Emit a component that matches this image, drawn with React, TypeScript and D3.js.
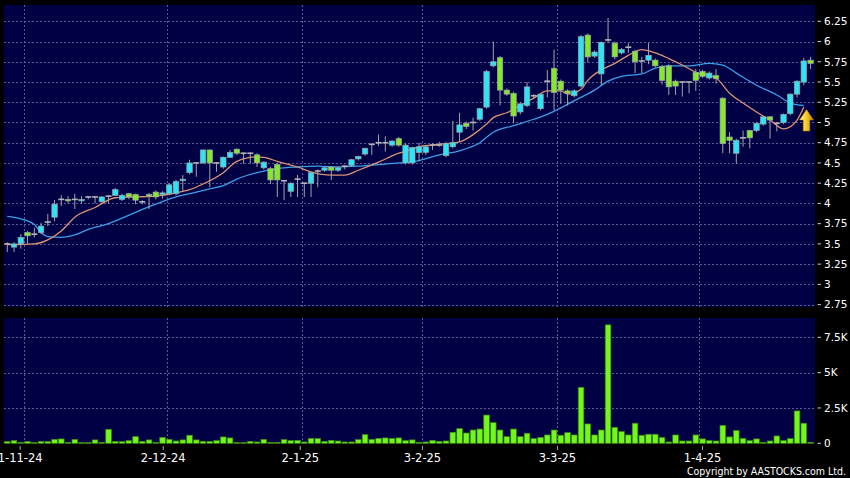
import React from "react";
import * as d3 from "d3";

// daily candles, oldest first (120 trading days)
const opens = [
  3.5, 3.46, 3.5, 3.64, 3.62, 3.64, 3.77, 3.83, 4.05, 4.05,
  4.05, 4.04, 4.08, 4.08, 4.02, 4.09, 4.1, 4.05, 4.12, 4.11,
  4.02, 4.11, 4.14, 4.11, 4.12, 4.12, 4.28, 4.38, 4.5, 4.5,
  4.66, 4.5, 4.45, 4.57, 4.67, 4.62, 4.62, 4.6, 4.44, 4.43,
  4.48, 4.28, 4.15, 4.3, 4.25, 4.25, 4.4, 4.41, 4.45, 4.41,
  4.46, 4.47, 4.55, 4.61, 4.73, 4.75, 4.75, 4.72, 4.8, 4.5,
  4.5, 4.63, 4.63, 4.72, 4.72, 4.59, 4.7, 4.88, 4.99, 5.0,
  5.04, 5.19, 5.7, 5.8, 5.4, 5.36, 5.13, 5.21, 5.33, 5.17,
  5.51, 5.67, 5.51, 5.39, 5.33, 5.45, 6.08, 5.82, 5.6, 6.02,
  5.98, 5.86, 5.93, 5.88, 5.76, 5.77, 5.77, 5.69, 5.7, 5.51,
  5.5, 5.5, 5.62, 5.63, 5.55, 5.58, 5.3, 4.82, 4.62, 4.81,
  4.9, 4.9, 4.98, 5.07, 4.99, 5.0, 5.11, 5.35, 5.5, 5.77,
];
const highs = [
  3.52, 3.52, 3.62, 3.66, 3.7, 3.76, 3.87, 4.04, 4.1, 4.09,
  4.12, 4.09, 4.09, 4.09, 4.09, 4.1, 4.19, 4.12, 4.13, 4.12,
  4.04, 4.13, 4.16, 4.15, 4.25, 4.29, 4.35, 4.54, 4.51, 4.67,
  4.67, 4.51, 4.58, 4.66, 4.68, 4.63, 4.63, 4.62, 4.52, 4.45,
  4.5, 4.29, 4.26, 4.35, 4.26, 4.39, 4.42, 4.45, 4.46, 4.45,
  4.47, 4.55, 4.59, 4.69, 4.74, 4.85, 4.83, 4.78, 4.82, 4.74,
  4.7, 4.75, 4.71, 4.74, 4.76, 4.76, 5.02, 5.12, 5.01, 5.06,
  5.18, 5.65, 6.0, 5.82, 5.42, 5.38, 5.25, 5.5, 5.35, 5.36,
  5.65, 5.9, 5.53, 5.41, 5.41, 6.08, 6.1, 5.89, 6.0, 6.29,
  6.0, 5.92, 5.98, 5.9, 5.81, 5.98, 5.79, 5.71, 5.72, 5.53,
  5.51, 5.51, 5.66, 5.65, 5.63, 5.66, 5.31, 4.88, 4.8, 4.9,
  4.91, 5.0, 5.08, 5.08, 5.0, 5.11, 5.36, 5.52, 5.8, 5.81,
];
const lows = [
  3.4, 3.4, 3.44, 3.5, 3.58, 3.62, 3.72, 3.78, 3.97, 4.0,
  3.93, 4.0, 4.05, 4.0, 4.01, 4.0, 4.09, 4.03, 4.05, 3.99,
  3.99, 3.93, 4.05, 4.06, 4.1, 4.1, 4.14, 4.36, 4.33, 4.49,
  4.2, 4.39, 4.43, 4.56, 4.6, 4.49, 4.49, 4.45, 4.42, 4.24,
  4.08, 4.04, 4.08, 4.08, 4.08, 4.08, 4.2, 4.39, 4.29, 4.39,
  4.42, 4.45, 4.53, 4.59, 4.6, 4.71, 4.64, 4.7, 4.7, 4.48,
  4.48, 4.52, 4.6, 4.66, 4.7, 4.57, 4.68, 4.76, 4.92, 4.9,
  5.02, 5.17, 5.68, 5.21, 5.33, 4.99, 5.1, 5.19, 5.3, 5.15,
  5.31, 5.15, 5.23, 5.21, 5.31, 5.43, 5.74, 5.8, 5.46, 5.98,
  5.78, 5.84, 5.86, 5.61, 5.61, 5.72, 5.68, 5.47, 5.34, 5.34,
  5.32, 5.36, 5.39, 5.55, 5.53, 5.48, 4.62, 4.62, 4.49, 4.7,
  4.68, 4.88, 4.96, 4.8, 4.89, 4.98, 5.09, 5.31, 5.46, 5.66,
];
const closes = [
  3.5, 3.5, 3.58, 3.6, 3.62, 3.72, 3.77, 3.99, 4.05, 4.04,
  4.05, 4.05, 4.08, 4.08, 4.08, 4.09, 4.17, 4.1, 4.08, 4.04,
  4.02, 4.09, 4.08, 4.13, 4.23, 4.27, 4.3, 4.5, 4.5, 4.66,
  4.5, 4.5, 4.57, 4.63, 4.62, 4.62, 4.62, 4.5, 4.51, 4.29,
  4.29, 4.28, 4.25, 4.3, 4.25, 4.38, 4.4, 4.44, 4.41, 4.44,
  4.46, 4.54, 4.58, 4.68, 4.73, 4.75, 4.75, 4.77, 4.72, 4.72,
  4.69, 4.7, 4.7, 4.72, 4.72, 4.74, 4.75, 4.97, 4.95, 5.0,
  5.17, 5.63, 5.75, 5.4, 5.35, 5.08, 5.23, 5.44, 5.33, 5.35,
  5.51, 5.37, 5.4, 5.36, 5.39, 6.06, 5.81, 5.87, 5.99, 6.02,
  5.81, 5.9, 5.93, 5.75, 5.76, 5.83, 5.7, 5.52, 5.44, 5.45,
  5.5, 5.5, 5.52, 5.57, 5.61, 5.54, 4.74, 4.78, 4.78, 4.81,
  4.81, 4.99, 5.07, 5.03, 4.99, 5.1, 5.35, 5.51, 5.76, 5.73,
];
const volumes = [
  120, 190, 70, 120, 50, 140, 120, 280, 310, 70,
  280, 50, 50, 240, 70, 990, 140, 120, 190, 470,
  140, 240, 70, 420, 280, 165, 240, 570, 240, 140,
  140, 190, 450, 380, 50, 50, 140, 95, 280, 70,
  70, 260, 190, 210, 95, 350, 330, 140, 210, 165,
  95, 95, 260, 610, 280, 350, 380, 350, 380, 190,
  240, 70, 95, 210, 140, 165, 780, 1040, 730, 940,
  1010, 2000, 1460, 940, 470, 1010, 470, 710, 330, 420,
  590, 940, 570, 755, 590, 3960, 1370, 590, 940, 8380,
  1130, 830, 590, 1420, 570, 640, 640, 420, 95, 590,
  165, 165, 590, 310, 190, 165, 1270, 450, 900, 350,
  190, 310, 70, 165, 520, 190, 330, 2290, 1420, 70,
];

// moving averages: [bar index, value]
const maShort: [number, number][] = [
  [0, 3.49], [4, 3.5], [6, 3.55], [8, 3.66], [10, 3.83], [13, 3.95], [16, 4.07],
  [19, 4.08], [22, 4.09], [25, 4.13], [27, 4.17], [29, 4.24], [32, 4.38], [34, 4.52],
  [37, 4.575], [38, 4.57], [40, 4.52], [43, 4.45], [45, 4.39], [48, 4.35], [50, 4.35],
  [52, 4.41], [55, 4.51], [58, 4.62], [60, 4.67], [61, 4.7], [64, 4.73], [67, 4.76],
  [69, 4.85], [71, 4.98], [72, 5.06], [74, 5.12], [76, 5.21], [78, 5.3], [80, 5.39],
  [82, 5.39], [83, 5.35], [85, 5.41], [86, 5.52], [88, 5.65], [90, 5.73], [92, 5.83],
  [94, 5.9], [96, 5.86], [98, 5.79], [100, 5.71], [102, 5.62], [105, 5.55], [107, 5.36],
  [109, 5.24], [111, 5.13], [113, 5.03], [115, 4.92], [117, 5.03], [118, 5.19],
];
const maLong: [number, number][] = [
  [0, 3.84], [2, 3.81], [4, 3.74], [5, 3.64], [6, 3.59], [8, 3.58], [10, 3.61],
  [12, 3.68], [15, 3.75], [19, 3.89], [22, 3.99], [25, 4.08], [28, 4.14], [30, 4.18],
  [32, 4.22], [34, 4.3], [37, 4.38], [40, 4.43], [43, 4.45], [46, 4.46], [49, 4.45],
  [52, 4.46], [55, 4.48], [58, 4.5], [61, 4.53], [64, 4.6], [67, 4.65], [70, 4.75],
  [72, 4.88], [75, 4.96], [78, 5.04], [80, 5.1], [82, 5.18], [84, 5.27], [87, 5.4],
  [89, 5.51], [91, 5.57], [94, 5.6], [96, 5.67], [98, 5.7], [101, 5.7], [104, 5.73],
  [106, 5.71], [108, 5.61], [111, 5.46], [114, 5.34], [116, 5.24], [118, 5.21],
];

const priceTicks = [2.75, 3, 3.25, 3.5, 3.75, 4, 4.25, 4.5, 4.75, 5, 5.25, 5.5, 5.75, 6, 6.25];
const volumeTicks = [0, 2500, 5000, 7500];
const volumeTickLabels = ["0", "2.5K", "5K", "7.5K"];
const dateLabels = ["1-11-24", "2-12-24", "2-1-25", "3-2-25", "3-3-25", "1-4-25"];
const dateLabelIdx = [1.9, 23.1, 43.4, 61.5, 81.5, 103];
const monthGridIdx = [2.5, 23.6, 43.6, 61.5, 81.5, 102.5];
const signal = { index: 118.4, price: 5.16 };

const W = 850;
const H = 478;
const L = 4;
const R = 815;
const priceTop = 5;
const priceBottom = 307;
const volTop = 318;
const volBottom = 443.3;

const CYAN = "#2ee4f4";
const GREEN = "#86e82c";
const GRID = "#5c5c94";
const PANEL = "#000044";

export default function App() {
  const x = d3.scaleLinear().domain([0, 119]).range([7.3, 810.55]);
  const yP = d3.scaleLinear().domain([2.75, 6.25]).range([304.6, 21.3]);
  const yV = d3.scaleLinear().domain([0, 7500]).range([volBottom, 337.3]);

  const line = d3
    .line<[number, number]>()
    .x((d) => x(d[0]))
    .y((d) => yP(d[1]))
    .curve(d3.curveMonotoneX);

  const ax = x(signal.index);
  const ay = yP(signal.price);
  const arrow = `M${ax},${ay} L${ax + 7},${ay + 10.5} L${ax + 3.3},${ay + 10.5} L${ax + 3.3},${ay + 21.5} L${ax - 3.3},${ay + 21.5} L${ax - 3.3},${ay + 10.5} L${ax - 7},${ay + 10.5} Z`;

  const fontAxis = "'DejaVu Sans', Verdana, sans-serif";

  return (
    <svg
      width={W}
      height={H}
      style={{ position: "absolute", left: 0, top: 0 }}
    >
      <defs>
        <linearGradient id="arrowGrad" x1="0" x2="1" y1="0" y2="0">
          <stop offset="0%" stopColor="#fff8a0" />
          <stop offset="45%" stopColor="#f8d030" />
          <stop offset="100%" stopColor="#c88800" />
        </linearGradient>
      </defs>
      <rect x={0} y={0} width={W} height={H} fill="#000" />
      <rect x={L} y={priceTop} width={R - L} height={priceBottom - priceTop} fill={PANEL} />
      <rect x={L} y={volTop} width={R - L} height={volBottom - volTop} fill={PANEL} />

      {/* grid */}
      <g stroke={GRID} strokeWidth={1} strokeDasharray="2,2">
        {priceTicks.map((t) => (
          <line key={"pg" + t} x1={L} x2={R} y1={Math.round(yP(t)) + 0.5} y2={Math.round(yP(t)) + 0.5} />
        ))}
        {volumeTicks.slice(1).map((t) => (
          <line key={"vg" + t} x1={L} x2={R} y1={Math.round(yV(t)) + 0.5} y2={Math.round(yV(t)) + 0.5} />
        ))}
        {monthGridIdx.map((g) => (
          <React.Fragment key={"mg" + g}>
            <line x1={Math.round(x(g)) + 0.5} x2={Math.round(x(g)) + 0.5} y1={priceTop} y2={priceBottom} />
            <line x1={Math.round(x(g)) + 0.5} x2={Math.round(x(g)) + 0.5} y1={volTop} y2={volBottom} />
          </React.Fragment>
        ))}
      </g>

      {/* volume */}
      <g>
        {volumes.map((v, i) => (
          <rect
            key={"v" + i}
            x={x(i) - 2.8}
            y={yV(v)}
            width={5.6}
            height={Math.max(0.8, volBottom - yV(v))}
            fill="#74f61c"
            stroke="#3a8a12"
            strokeWidth={0.7}
          />
        ))}
      </g>

      {/* moving averages */}
      <path d={line(maLong) || ""} fill="none" stroke="#3c9ee8" strokeWidth={1.3} />
      <path d={line(maShort) || ""} fill="none" stroke="#de9272" strokeWidth={1.3} />

      {/* candles */}
      <g>
        {closes.map((c, i) => {
          const o = opens[i];
          const cx = x(i);
          const top = yP(Math.max(o, c));
          const bot = yP(Math.min(o, c));
          return (
            <g key={"c" + i}>
              <line x1={cx} x2={cx} y1={yP(highs[i])} y2={yP(lows[i])} stroke="#a4a4a4" strokeWidth={1} />
              {o === c ? (
                <line x1={cx - 3} x2={cx + 3} y1={top} y2={top} stroke="#b4b4b4" strokeWidth={1.6} />
              ) : (
                <rect
                  x={cx - 2.7}
                  y={top}
                  width={5.4}
                  height={Math.max(1.5, bot - top)}
                  fill={c > o ? CYAN : GREEN}
                  stroke="#9aa4a8"
                  strokeWidth={0.7}
                />
              )}
            </g>
          );
        })}
      </g>

      <path d={arrow} fill="url(#arrowGrad)" stroke="#b07800" strokeWidth={0.5} />

      {/* right axes */}
      <g fontFamily={fontAxis} fontSize={10.5} fill="#fff">
        {priceTicks.map((t) => (
          <g key={"pt" + t}>
            <line x1={817.5} x2={821} y1={yP(t)} y2={yP(t)} stroke="#ccc" />
            <text x={824} y={yP(t)} dy="0.36em">
              {String(t)}
            </text>
          </g>
        ))}
        {volumeTicks.map((t, k) => (
          <g key={"vt" + t}>
            <line x1={817.5} x2={821} y1={yV(t)} y2={yV(t)} stroke="#ccc" />
            <text x={824} y={yV(t)} dy="0.36em">
              {volumeTickLabels[k]}
            </text>
          </g>
        ))}
      </g>

      {/* date axis */}
      <g fontFamily={fontAxis} fontSize={11.5} fill="#fff">
        {dateLabels.map((d, k) => (
          <g key={"d" + d}>
            <line x1={x(dateLabelIdx[k])} x2={x(dateLabelIdx[k])} y1={446} y2={450} stroke="#aaa" />
            <text x={x(dateLabelIdx[k])} y={461.5} textAnchor="middle">
              {d}
            </text>
          </g>
        ))}
      </g>

      <text
        x={846}
        y={475}
        textAnchor="end"
        fontFamily={fontAxis}
        fontSize={11}
        fill="#fff"
        textLength={159}
        lengthAdjust="spacingAndGlyphs"
      >
        Copyright by AASTOCKS.com Ltd.
      </text>
    </svg>
  );
}
